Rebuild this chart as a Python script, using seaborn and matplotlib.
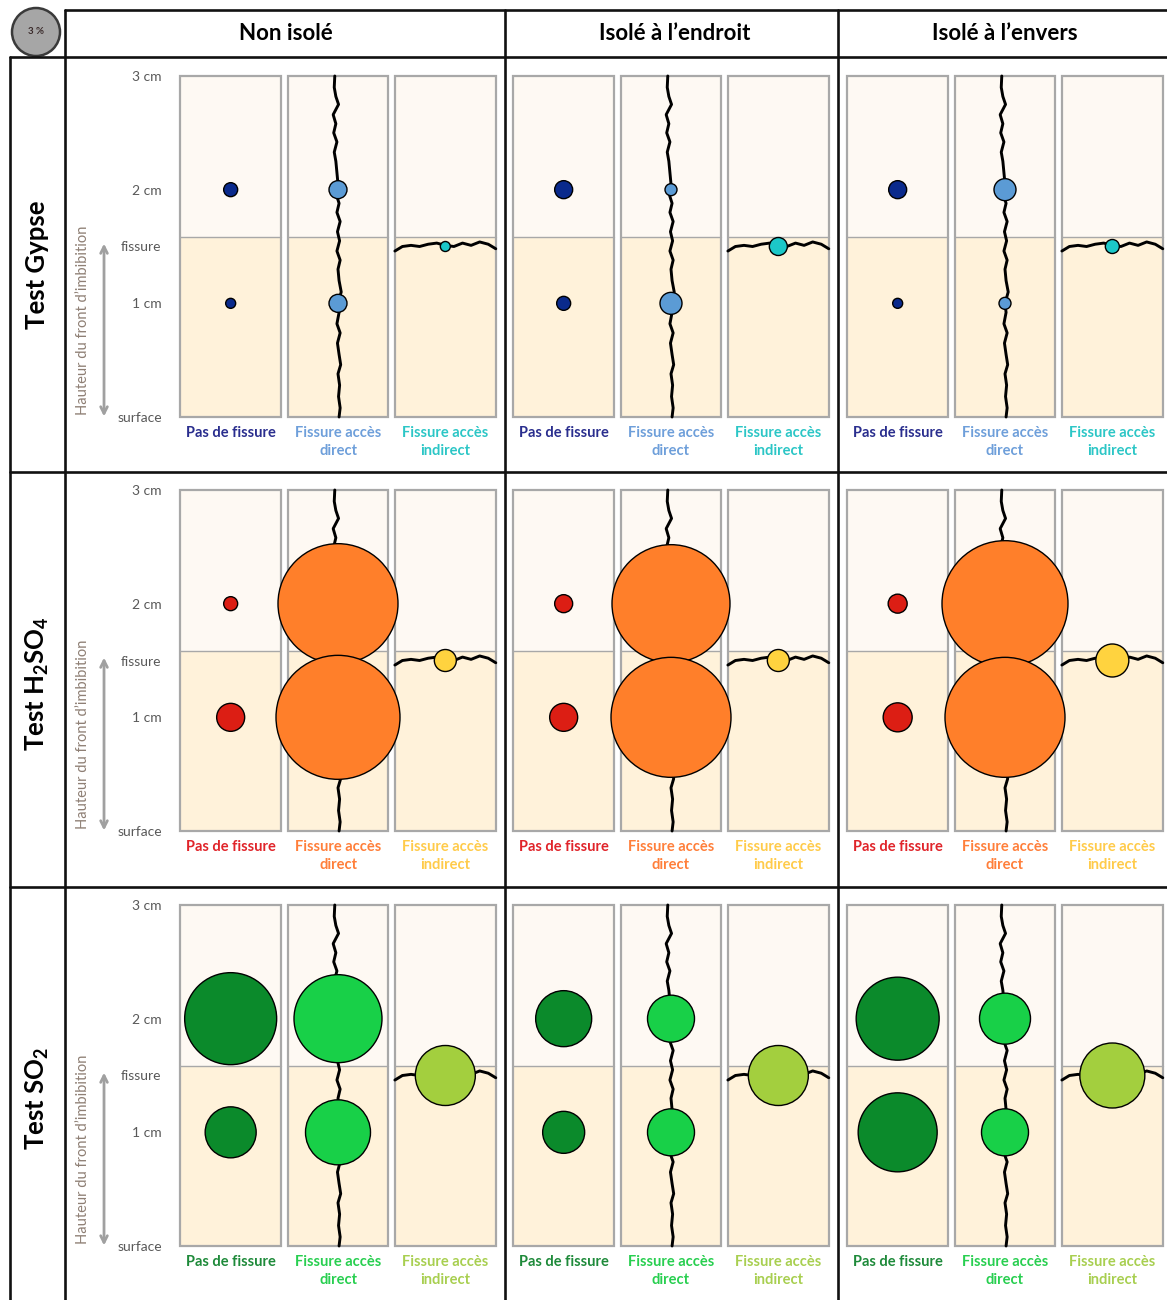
import numpy as np
import pandas as pd
import matplotlib
matplotlib.use("Agg")
import matplotlib.pyplot as plt
import seaborn as sns
from matplotlib.patches import Rectangle, Circle
from matplotlib.lines import Line2D
from matplotlib.transforms import IdentityTransform

# Données
tests = ["Test Gypse", "Test H$_\\mathbf{2}$SO$_\\mathbf{4}$", "Test SO$_\\mathbf{2}$"]
configs = ["Non isolé", "Isolé à l’endroit", "Isolé à l’envers"]
categories = ["Pas de fissure", "Fissure accès\ndirect", "Fissure accès\nindirect"]
hauteurs = [3, 2, 1.5, 1, 0]
hauteur_labels = ["3 cm", "2 cm", "fissure", "1 cm", "surface"]

# diamètre des cercles (px) : [pas 2 cm, pas 1 cm, direct 2 cm, direct 1 cm, indirect fissure]
gypse = [[14, 10, 18, 18, 10], [18, 14, 12, 22, 18], [18, 10, 22, 12, 14]]
h2so4 = [[14, 28, 120, 124, 22], [18, 28, 118, 120, 22], [19, 29, 126, 120, 33]]
so2 = [[92, 51, 88, 65, 60], [56, 42, 47, 47, 60], [83, 79, 51, 47, 65]]
point_cat = [0, 0, 1, 1, 2]
point_h = [2, 1, 2, 1, 1.5]

couleurs = [["#0A2A8C", "#5B9BD5", "#1CC8C8"],
            ["#DC1E14", "#FF7F2A", "#FFD33F"],
            ["#0B8A2B", "#18D048", "#A3CF3E"]]
couleurs_txt = [["#2A2E8E", "#6E9FDA", "#2CC6C6"],
                ["#E0242A", "#FF7F3A", "#FFCB4A"],
                ["#1E8A3A", "#28CF50", "#A8CF50"]]

# tracé de la fissure (décalages)
crack_y = [3.0, 2.9, 2.82, 2.75, 2.66, 2.58, 2.5, 2.42, 2.33, 2.25, 2.15, 2.05, 1.97, 1.88, 1.8, 1.72, 1.63, 1.55,
           1.46, 1.38, 1.3, 1.2, 1.1, 1.0, 0.92, 0.82, 0.74, 0.65, 0.55, 0.46, 0.38, 0.28, 0.18, 0.08, 0.0]
crack_dx = [-0.03, -0.035, -0.02, 0.005, -0.045, -0.02, -0.04, -0.01, -0.035, -0.02, -0.01, 0.0, -0.02, 0.01,
            -0.01, 0.02, -0.005, 0.015, -0.01, 0.02, 0.0, 0.01, 0.03, 0.0, 0.01, -0.01, 0.02, -0.005, 0.01,
            0.025, 0.0, 0.015, 0.005, 0.02, 0.01]
crack_hx = [0.03, 0.1, 0.18, 0.26, 0.34, 0.42, 0.5, 0.58, 0.66, 0.74, 0.82, 0.9, 0.97]
crack_hy = [1.46, 1.5, 1.51, 1.5, 1.52, 1.53, 1.51, 1.5, 1.53, 1.51, 1.54, 1.52, 1.48]

sns.set_theme(style="white")
plt.rcParams['font.family'] = ['Lato', 'DejaVu Sans']
plt.rcParams['mathtext.fontset'] = 'custom'
plt.rcParams['mathtext.rm'] = 'Lato'
plt.rcParams['mathtext.bf'] = 'Lato:bold'

W, H = 1167, 1300
fig = plt.figure(figsize=(W / 100, H / 100), dpi=100)
fig.patch.set_facecolor("white")


def rect(x, y, w, h):
    return [x / W, 1 - (y + h) / H, w / W, h / H]


upper, lower, edge = "#FEF9F3", "#FFF2DA", "#A8A8A8"
x0s = [177, 510, 844]
y0s = [76, 490, 905]
all_d = np.array(gypse + h2so4 + so2).ravel()
s_lo, s_hi = (all_d.min() * 0.72) ** 2, (all_d.max() * 0.72) ** 2

for r, vals in enumerate([gypse, h2so4, so2]):
    for c in range(3):
        ax = fig.add_axes(rect(x0s[c], y0s[r], 322, 341))
        ax.set_xlim(0, 3)
        ax.set_ylim(0, 3)
        for k in range(3):
            ax.add_patch(Rectangle((k + 0.03, 1.58), 0.94, 1.42, fc=upper, ec="none", zorder=0))
            ax.add_patch(Rectangle((k + 0.03, 0), 0.94, 1.58, fc=lower, ec="none", zorder=0))
            ax.plot([k + 0.03, k + 0.97], [1.58, 1.58], color=edge, lw=1, zorder=1)
            ax.add_patch(Rectangle((k + 0.03, 0), 0.94, 3, fc="none", ec=edge, lw=1.6,
                                   clip_on=False, zorder=1))
            ax.text(k + 0.5, -0.08, categories[k], ha="center", va="top", fontsize=10.5,
                    fontweight="bold", color=couleurs_txt[r][k], linespacing=1.4)
        ax.plot(1.5 + np.array(crack_dx), crack_y, color="black", lw=2.1, zorder=3, clip_on=False)
        ax.plot(2 + np.array(crack_hx), crack_hy, color="black", lw=2.1, zorder=3)

        df = pd.DataFrame({
            "x": [point_cat[i] + 0.5 for i in range(5)],
            "h": point_h,
            "s": [(d * 0.72) ** 2 for d in vals[c]],
            "cat": [categories[i] for i in point_cat],
        })
        sns.scatterplot(data=df, x="x", y="h", size="s", sizes=(s_lo, s_hi), size_norm=(s_lo, s_hi),
                        hue="cat", hue_order=categories, palette=couleurs[r], legend=False, ax=ax,
                        edgecolor="black", linewidth=1.0, zorder=4, clip_on=False)
        ax.set_xlabel("")
        ax.set_ylabel("")
        ax.set_xticks([])
        for sp in ax.spines.values():
            sp.set_visible(False)
        ax.set_facecolor("none")
        if c == 0:
            ax.set_yticks(hauteurs, hauteur_labels)
            ax.tick_params(axis="y", length=0, pad=11, labelsize=10, labelcolor="#595959")
            ax.annotate("", xy=(-0.68, -0.02), xytext=(-0.68, 1.55),
                        arrowprops=dict(arrowstyle="<->", color="#A0A0A0", lw=2), annotation_clip=False)
            ax.text(-0.875, 0.85, "Hauteur du front d’imbibition", rotation=90, ha="center", va="center",
                    fontsize=10.5, color="#8E7F74")
        else:
            ax.set_yticks([])

# titres de colonnes et de lignes
for cx, txt in zip([286, 675, 1005], configs):
    fig.text(cx / W, 1 - 34 / H, txt, ha="center", va="center", fontsize=16, fontweight="bold", color="black")
for cy, txt in zip([265, 684, 1098], tests):
    fig.text(37 / W, 1 - cy / H, txt, ha="center", va="center", rotation=90, fontsize=18.5,
             fontweight="bold", color="black")

# lignes du tableau
ident = IdentityTransform()
lignes = [((65, 10), (1167, 10)), ((10, 57), (1167, 57)), ((10, 472), (1167, 472)), ((10, 887), (1167, 887)),
          ((10, 57), (10, 1300)), ((65, 10), (65, 1300)), ((505, 10), (505, 1300)), ((838, 10), (838, 1300))]
for (xa, ya), (xb, yb) in lignes:
    fig.add_artist(Line2D([xa, xb], [H - ya, H - yb], transform=ident, color="#111111", lw=1.9))

fig.add_artist(Circle((36, H - 32), 24, transform=ident, fc="#A6A6A6", ec="#3A3A3A", lw=1.8))
fig.text(36 / W, 1 - 32 / H, "3 %", ha="center", va="center", fontsize=7, fontweight="bold", color="#3A2A2A")

fig.savefig("out.png", dpi=100)
